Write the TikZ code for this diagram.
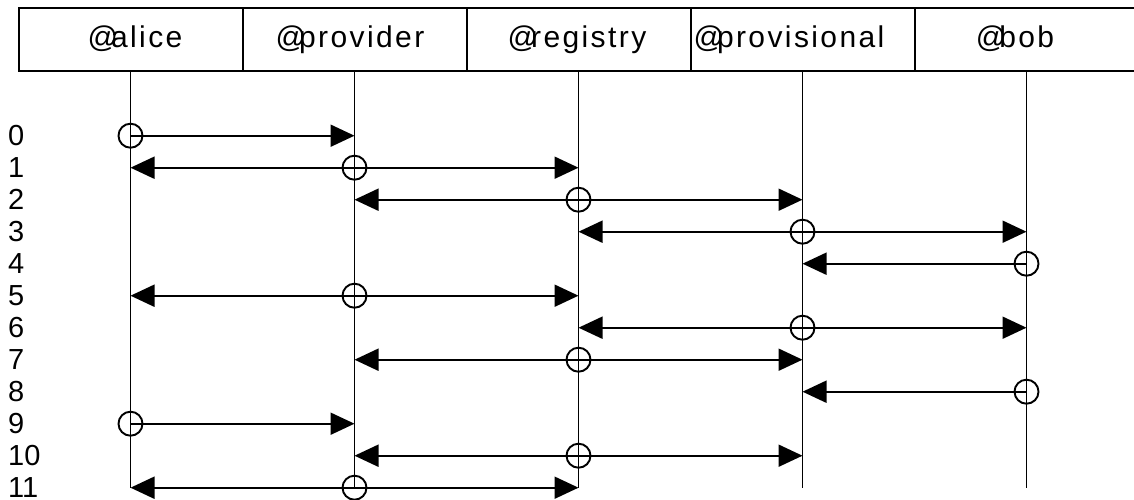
\documentclass[tikz,border=0pt]{standalone}
\usepackage{fontspec}
\setmainfont{Liberation Sans}
\newfontfamily\hdrfont[LetterSpace=8]{Liberation Sans}
\usetikzlibrary{arrows.meta}
\begin{document}
\begin{tikzpicture}[x=1pt,y=-1pt,
  cell/.style={draw, rectangle, minimum width=224pt, minimum height=63.5pt, inner sep=0pt, line width=2pt},
  hdr/.style={anchor=base, inner sep=0pt, font=\hdrfont\fontsize{30}{30}\selectfont},
  life/.style={line width=1.9pt},
  msg/.style={-{Triangle[length=24pt,width=22pt]}, line width=2pt},
  src/.style={circle, draw, minimum size=24pt, inner sep=0pt, line width=1.9pt},
  num/.style={anchor=west, inner sep=0pt, font=\fontsize{29}{29}\selectfont}]
\useasboundingbox (0,0) rectangle (1134,499);
% header cells
\node[cell] (h1) at (130.5,39.25) {};
\node[cell] (h2) at (354.5,39.25) {};
\node[cell] (h3) at (578.5,39.25) {};
\node[cell] (h4) at (802.5,39.25) {};
\node[cell] (h5) at (1026.5,39.25) {};
\node[hdr] (t1) at (135,47) {@\kern-7pt alice};
\node[hdr] (t2) at (350,47) {@\kern-7pt provider};
\node[hdr] (t3) at (577,47) {@\kern-7pt registry};
\node[hdr] (t4) at (789,47) {@\kern-7pt provisional};
\node[hdr] (t5) at (1015,47) {@\kern-7pt bob};
% source circles
\node[src] (c0)  at (130.5,135.7) {};
\node[src] (c1)  at (354.5,167.7) {};
\node[src] (c2)  at (578.5,199.7) {};
\node[src] (c3)  at (802.5,231.7) {};
\node[src] (c4)  at (1026.5,263.7) {};
\node[src] (c5)  at (354.5,295.7) {};
\node[src] (c6)  at (802.5,327.7) {};
\node[src] (c7)  at (578.5,359.7) {};
\node[src] (c8)  at (1026.5,391.7) {};
\node[src] (c9)  at (130.5,423.7) {};
\node[src] (c10) at (578.5,455.7) {};
\node[src] (c11) at (354.5,487.7) {};
% lifelines
\foreach \h in {h1,h2,h3,h4,h5}
  \draw[life] (\h.south) -- (\h.south |- c11.center);
% messages
\draw[msg] (c0.center) -- (c0.center -| h2.south);
\draw[msg] (c1.center) -- (c1.center -| h1.south);
\draw[msg] (c1.center) -- (c1.center -| h3.south);
\draw[msg] (c2.center) -- (c2.center -| h2.south);
\draw[msg] (c2.center) -- (c2.center -| h4.south);
\draw[msg] (c3.center) -- (c3.center -| h3.south);
\draw[msg] (c3.center) -- (c3.center -| h5.south);
\draw[msg] (c4.center) -- (c4.center -| h4.south);
\draw[msg] (c5.center) -- (c5.center -| h1.south);
\draw[msg] (c5.center) -- (c5.center -| h3.south);
\draw[msg] (c6.center) -- (c6.center -| h3.south);
\draw[msg] (c6.center) -- (c6.center -| h5.south);
\draw[msg] (c7.center) -- (c7.center -| h2.south);
\draw[msg] (c7.center) -- (c7.center -| h4.south);
\draw[msg] (c8.center) -- (c8.center -| h4.south);
\draw[msg] (c9.center) -- (c9.center -| h2.south);
\draw[msg] (c10.center) -- (c10.center -| h2.south);
\draw[msg] (c10.center) -- (c10.center -| h4.south);
\draw[msg] (c11.center) -- (c11.center -| h1.south);
\draw[msg] (c11.center) -- (c11.center -| h3.south);
% row numbers
\node[num] (n0)  at (8,135.7) {0};
\node[num] (n1)  at (8,167.7) {1};
\node[num] (n2)  at (8,199.7) {2};
\node[num] (n3)  at (8,231.7) {3};
\node[num] (n4)  at (8,263.7) {4};
\node[num] (n5)  at (8,295.7) {5};
\node[num] (n6)  at (8,327.7) {6};
\node[num] (n7)  at (8,359.7) {7};
\node[num] (n8)  at (8,391.7) {8};
\node[num] (n9)  at (8,423.7) {9};
\node[num] (n10) at (8,455.7) {10};
\node[num] (n11) at (8,487.7) {11};
\end{tikzpicture}
\end{document}
